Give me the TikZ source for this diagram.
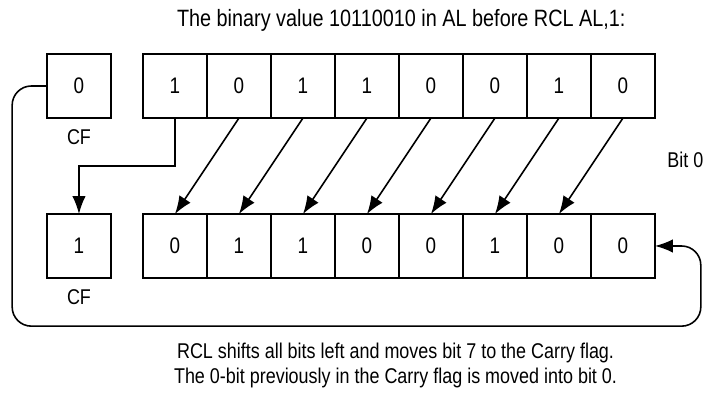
\documentclass[tikz,border=0pt]{standalone}
\usepackage{fontspec}
\setmainfont{Liberation Sans}[FakeStretch=0.84]
\usetikzlibrary{arrows.meta,positioning}

\tikzset{
  bitbox/.style={draw, line width=0.7pt, minimum size=1cm, inner sep=0pt, outer sep=0pt, font=\fontsize{10}{12}\selectfont},
  lbl/.style={font=\fontsize{9.5}{11}\selectfont, inner sep=0pt},
  arr/.style={line width=0.7pt, -{Latex[length=2.8mm,width=2.1mm]}}
}

\begin{document}
\begin{tikzpicture}
  \useasboundingbox (0,0) rectangle (10.984,6.156);

  % Title
  \node[lbl, font=\fontsize{10.5}{12}\selectfont] (title) at (6.27,5.84) {The binary value 10110010 in AL before RCL AL,1:};

  % Carry flag boxes
  \node[bitbox] (cfa) at (1.234,4.8125) {0};
  \node[bitbox] (cfb) at (1.234,2.3125) {1};
  \node[lbl, below=0.17cm of cfa] (cfalbl) {CF};
  \node[lbl, below=0.17cm of cfb] (cfblbl) {CF};

  % AL before (top) and after (bottom)
  \foreach \i/\v in {1/1,2/0,3/1,4/1,5/0,6/0,7/1,8/0}
    \node[bitbox] (t\i) at (1.734+\i,4.8125) {\v};
  \foreach \i/\v in {1/0,2/1,3/1,4/0,5/0,6/1,7/0,8/0}
    \node[bitbox] (b\i) at (1.734+\i,2.3125) {\v};

  % Shift left by one
  \foreach \i [evaluate=\i as \j using int(\i-1)] in {2,...,8}
    \draw[arr] (t\i.south) -- (b\j.north);

  % Bit 7 into the carry flag
  \draw[arr] (t1.south) -- ++(0,-0.75) -| (cfb.north);

  % Old carry into bit 0
  \draw[arr, rounded corners=0.3cm] (cfa.west) -| (0.19,1.06) -| (10.95,2.3125) -- (b8.east);

  \node[lbl, anchor=west] (bit0) at (10.42,3.656) {Bit 0};

  % Caption
  \node[lbl, align=center] (caption) at (6.18,0.45)
    {RCL shifts all bits left and moves bit 7 to the Carry flag.\\
     The 0-bit previously in the Carry flag is moved into bit 0.};
\end{tikzpicture}
\end{document}
